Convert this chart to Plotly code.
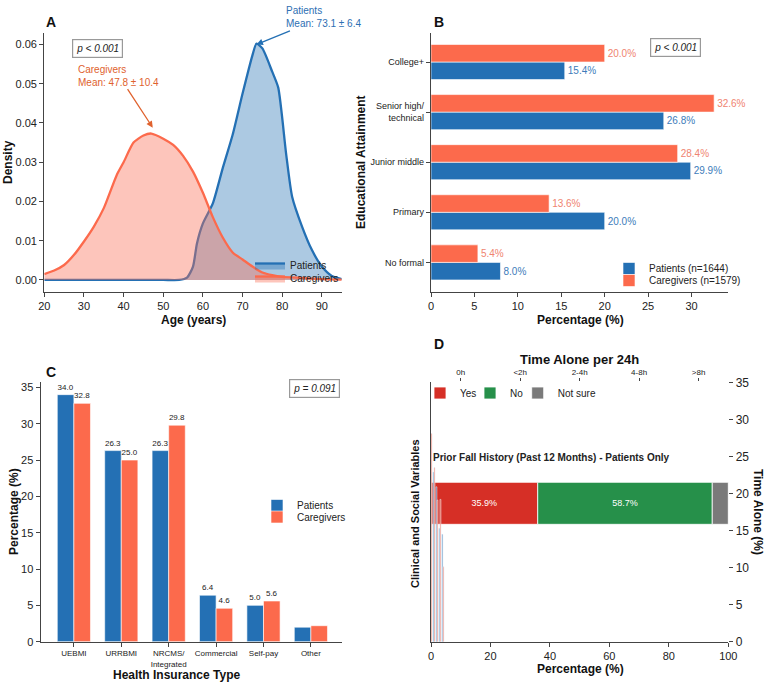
import plotly.graph_objects as go
import numpy as np

# ---------------- data ----------------
# Panel A: age density
pat_age = [20, 30, 40, 50, 54, 56, 57.5, 58.5, 60, 62.5, 65, 67.5, 70, 72.5, 73.5, 75, 77.5, 79, 81, 82.5, 85, 87.5, 90, 92.5, 95]
pat_dens = [0, 0, 0, 0, 0, 0.0006, 0.0034, 0.0093, 0.0144, 0.0195, 0.0285, 0.0370, 0.0475, 0.0573, 0.0602, 0.0590, 0.0530, 0.0490, 0.0320, 0.0212, 0.0136, 0.0076, 0.0034, 0.0010, 0.0002]
cg_age = [20, 22.5, 25, 27.5, 30, 32.5, 35, 38.25, 40, 42.5, 45, 47, 50, 52.5, 55, 57.5, 60, 62.5, 65, 67.5, 70, 72.5, 75, 77.5, 80, 85, 90, 95]
cg_dens = [0.0015, 0.0024, 0.0038, 0.0064, 0.0098, 0.0136, 0.0183, 0.0267, 0.0300, 0.0350, 0.0368, 0.0373, 0.0360, 0.0344, 0.0316, 0.0276, 0.0222, 0.0160, 0.0108, 0.0070, 0.0052, 0.0034, 0.0019, 0.0012, 0.0008, 0.0005, 0.0002, 0.0001]

# Panel B: education
edu_cats = ["No formal", "Primary", "Junior middle", "Senior high/<br>technical", "College+"]
edu_pat = [8.0, 20.0, 29.9, 26.8, 15.4]
edu_cg = [5.4, 13.6, 28.4, 32.6, 20.0]

# Panel C: insurance
ins_cats = ["UEBMI", "URRBMI", "NRCMS/<br>Integrated", "Commercial", "Self-pay", "Other"]
ins_pat = [34.0, 26.3, 26.3, 6.4, 5.0, 2.0]
ins_cg = [32.8, 25.0, 29.8, 4.6, 5.6, 2.2]

# Panel D: fall history + time alone
fall_labels = ["Yes", "No", "Not sure"]
fall_vals = [35.9, 58.7, 5.4]
time_cats = ["0h", "&lt;2h", "2-4h", "4-8h", "&gt;8h"]
time_pat = [26.4, 22.9, 20.9, 15.3, 14.5]
time_cg = [28.1, 23.5, 19.1, 19.2, 10.1]

# ---------------- style ----------------
W, H = 767, 684
BLUE = "#2470b4"
SAL = "#fc6a4c"
FONT = "Arial, Liberation Sans, sans-serif"
AX = "#444444"

def fx(p):
    return p / W

def fy(p):
    return 1 - p / H

fig = go.Figure()

# ---- Panel A ----
fig.add_trace(go.Scatter(x=pat_age, y=pat_dens, mode="lines", name="Patients",
                         line=dict(color=BLUE, width=2.3, shape="spline", smoothing=0.6),
                         fill="tozeroy", fillcolor="rgba(36,112,180,0.38)",
                         xaxis="x", yaxis="y", legend="legend"))
fig.add_trace(go.Scatter(x=cg_age, y=cg_dens, mode="lines", name="Caregivers",
                         line=dict(color=SAL, width=2.3, shape="spline", smoothing=0.6),
                         fill="tozeroy", fillcolor="rgba(250,110,85,0.40)",
                         xaxis="x", yaxis="y", legend="legend5"))

# ---- Panel B ----
fig.add_trace(go.Bar(y=edu_cats, x=edu_pat, orientation="h", name="Patients (n=1644)",
                     marker=dict(color=BLUE, line=dict(color="white", width=0.6)),
                     texttemplate="%{x:.1f}%", textposition="outside", constraintext="none",
                     textfont=dict(color="#3d7cba", size=10), cliponaxis=False,
                     xaxis="x2", yaxis="y2", legend="legend2"))
fig.add_trace(go.Bar(y=edu_cats, x=edu_cg, orientation="h", name="Caregivers (n=1579)",
                     marker=dict(color=SAL, line=dict(color="white", width=0.6)),
                     texttemplate="%{x:.1f}%", textposition="outside", constraintext="none",
                     textfont=dict(color="#ef8470", size=10), cliponaxis=False,
                     xaxis="x2", yaxis="y2", legend="legend6"))

# ---- Panel C ----
ins_pat_txt = [f"{v:.1f}" if v >= 3 else "" for v in ins_pat]
ins_cg_txt = [f"{v:.1f}" if v >= 3 else "" for v in ins_cg]
fig.add_trace(go.Bar(x=ins_cats, y=ins_pat, name="Patients", text=ins_pat_txt,
                     marker=dict(color=BLUE, line=dict(color="white", width=0.6)),
                     texttemplate="%{text}", textposition="outside", constraintext="none",
                     textfont=dict(color="#222", size=8), cliponaxis=False,
                     xaxis="x3", yaxis="y3", legend="legend3"))
fig.add_trace(go.Bar(x=ins_cats, y=ins_cg, name="Caregivers", text=ins_cg_txt,
                     marker=dict(color=SAL, line=dict(color="white", width=0.6)),
                     texttemplate="%{text}", textposition="outside", constraintext="none",
                     textfont=dict(color="#222", size=8), cliponaxis=False,
                     xaxis="x3", yaxis="y3", legend="legend7"))

# ---- Panel D ----
fall_colors = ["#d62f26", "#26904a", "#7a7a7a"]
fall_legends = ["legend4", "legend8", "legend9"]
fall_base = np.concatenate([[0], np.cumsum(fall_vals)[:-1]])
for lab, v, b, c, lg in zip(fall_labels, fall_vals, fall_base, fall_colors, fall_legends):
    fig.add_trace(go.Bar(y=[0], x=[v], base=[b], orientation="h", name=lab,
                         width=0.6, offsetgroup="fall",
                         marker=dict(color=c, line=dict(color="white", width=0.8)),
                         text=[f"{v:.1f}%" if v >= 10 else ""], texttemplate="%{text}",
                         textposition="inside", insidetextanchor="middle",
                         textfont=dict(color="white", size=9),
                         xaxis="x4", yaxis="y4", legend=lg))

fig.add_trace(go.Bar(x=list(range(len(time_cats))), y=time_pat, name="Patients time alone",
                     marker=dict(color="rgba(36,112,180,0.7)"), showlegend=False,
                     xaxis="x5", yaxis="y5"))
fig.add_trace(go.Bar(x=list(range(len(time_cats))), y=time_cg, name="Caregivers time alone",
                     marker=dict(color="rgba(252,106,76,0.7)"), showlegend=False,
                     xaxis="x5", yaxis="y5"))

# ---------------- axes ----------------
def base_axis(**kw):
    d = dict(showgrid=False, zeroline=False, showline=True, linecolor=AX, linewidth=1.3,
             ticks="outside", ticklen=4, tickcolor=AX, tickwidth=1.1,
             tickfont=dict(size=11, color="#222", family=FONT), automargin=False)
    d.update(kw)
    return d

xA = [44.3, 341.7]
yA = [32.7, 291.7]
xB = [431, 728.3]
xC = [40.7, 341.7]
yC = [382.3, 641.7]

def leg(x, y, **kw):
    d = dict(x=fx(x), y=fy(y), xanchor="left", yanchor="top", bgcolor="rgba(0,0,0,0)",
             font=dict(size=10, family=FONT, color="#222"), itemwidth=30)
    d.update(kw)
    return d

fig.update_layout(
    xaxis=base_axis(domain=[fx(xA[0]), fx(xA[1])], range=[20, 95], tick0=20, dtick=10, anchor="y"),
    yaxis=base_axis(domain=[fy(yA[1]), fy(yA[0])], range=[-0.003, 0.063], tick0=0, dtick=0.01,
                    tickformat=".2f", anchor="x"),
    xaxis2=base_axis(domain=[fx(xB[0]), fx(xB[1])], range=[0, 34.23], tick0=0, dtick=5, anchor="y2"),
    yaxis2=base_axis(domain=[fy(yA[1]), fy(yA[0])], range=[-0.585, 4.585], anchor="x2",
                     type="category", categoryorder="array", categoryarray=edu_cats,
                     tickfont=dict(size=9, color="#222", family=FONT)),
    xaxis3=base_axis(domain=[fx(xC[0]), fx(xC[1])], range=[-0.70, 5.65], anchor="y3",
                     type="category", categoryorder="array", categoryarray=ins_cats,
                     tickfont=dict(size=8, color="#222", family=FONT)),
    yaxis3=base_axis(domain=[fy(yC[1]), fy(yC[0])], range=[0, 35.7], tick0=0, dtick=5, anchor="x3"),
    xaxis4=base_axis(domain=[fx(xB[0]), fx(xB[1])], range=[0, 100], tick0=0, dtick=20, anchor="y4"),
    yaxis4=base_axis(domain=[fy(yC[1]), fy(yC[0])], range=[-1.977, 1.729], anchor="x4",
                     showticklabels=False, ticks=""),
    xaxis5=base_axis(overlaying="x4", side="top", anchor="y4", range=[0, 100],
                     tickvals=[10, 30, 50, 70, 90], ticktext=time_cats, showline=False,
                     ticklen=3, tickfont=dict(size=8, color="#222", family=FONT)),
    yaxis5=base_axis(overlaying="y4", side="right", anchor="x4", range=[0, 35], tick0=0, dtick=5,
                     showline=False, tickfont=dict(size=12, color="#222", family=FONT)),
    barmode="group", bargap=0.3, bargroupgap=0,
    width=W, height=H, autosize=False,
    margin=dict(l=0, r=0, t=0, b=0),
    paper_bgcolor="white", plot_bgcolor="white",
    font=dict(family=FONT, color="#222"),
    legend=leg(250, 251),
    legend5=leg(250, 264),
    legend2=leg(609, 254),
    legend6=leg(609, 266),
    legend3=leg(257, 491),
    legend7=leg(257, 502.5),
    legend4=leg(420, 378.5),
    legend8=leg(470, 378.5),
    legend9=leg(517.7, 378.5),
)

# ---------------- annotations ----------------
ann = []

def label(text, x, y, size=12, angle=0, bold=True, xanchor="center", color="#111"):
    ann.append(dict(text=f"<b>{text}</b>" if bold else text, x=fx(x), y=fy(y), xref="paper", yref="paper",
                    showarrow=False, textangle=angle, xanchor=xanchor, yanchor="middle",
                    font=dict(size=size, color=color, family=FONT)))

# panel letters
label("A", 44, 22, size=14, xanchor="left")
label("B", 432, 22, size=14, xanchor="left")
label("C", 44, 372, size=14, xanchor="left")
label("D", 432, 344, size=14, xanchor="left")

# axis titles
label("Density", 8, 162, angle=-90)
label("Age (years)", 193, 320)
label("Educational Attainment", 361, 162, angle=-90)
label("Percentage (%)", 580, 320)
label("Percentage (%)", 14, 512, angle=-90)
label("Health Insurance Type", 176, 675)
label("Percentage (%)", 580, 669)
label("Clinical and Social Variables", 415, 514, size=11, angle=-90)
label("Time Alone (%)", 758, 512, angle=90)
label("Time Alone per 24h", 579, 359, size=13)

# p-value boxes
for txt, cx, cy in [("p &lt; 0.001", 72, 38.5), ("p &lt; 0.001", 701, 38), ("p = 0.091", 314, 388)]:
    ann.append(dict(text=f"<i>{txt}</i>", x=fx(cx), y=fy(cy), xref="paper", yref="paper",
                    showarrow=False, font=dict(size=10, color="#222", family=FONT),
                    bordercolor="#999999", borderwidth=1.2, borderpad=3, bgcolor="white"))

# mean annotations with arrows
ann.append(dict(text="Patients<br>Mean: 73.1 ± 6.4", x=73.5, y=0.0600, xref="x", yref="y",
                ax=67, ay=-27, showarrow=True, arrowhead=2, arrowsize=1, arrowwidth=1.3,
                arrowcolor=BLUE, align="left", font=dict(size=10, color="#2d6fb3", family=FONT)))
ann.append(dict(text="Caregivers<br>Mean: 47.8 ± 10.4", x=47.35, y=0.0388, xref="x", yref="y",
                ax=-34, ay=-52, showarrow=True, arrowhead=2, arrowsize=1, arrowwidth=1.3,
                arrowcolor="#e0622e", align="left", font=dict(size=10, color="#e0622e", family=FONT)))

# fall history label
ann.append(dict(text="<b>Prior Fall History (Past 12 Months) - Patients Only</b>", x=0, y=0.66,
                xref="x4", yref="y4", showarrow=False, xanchor="left", yanchor="middle",
                font=dict(size=10, color="#222", family=FONT)))

fig.update_layout(annotations=ann)
fig.write_html("out.html")
